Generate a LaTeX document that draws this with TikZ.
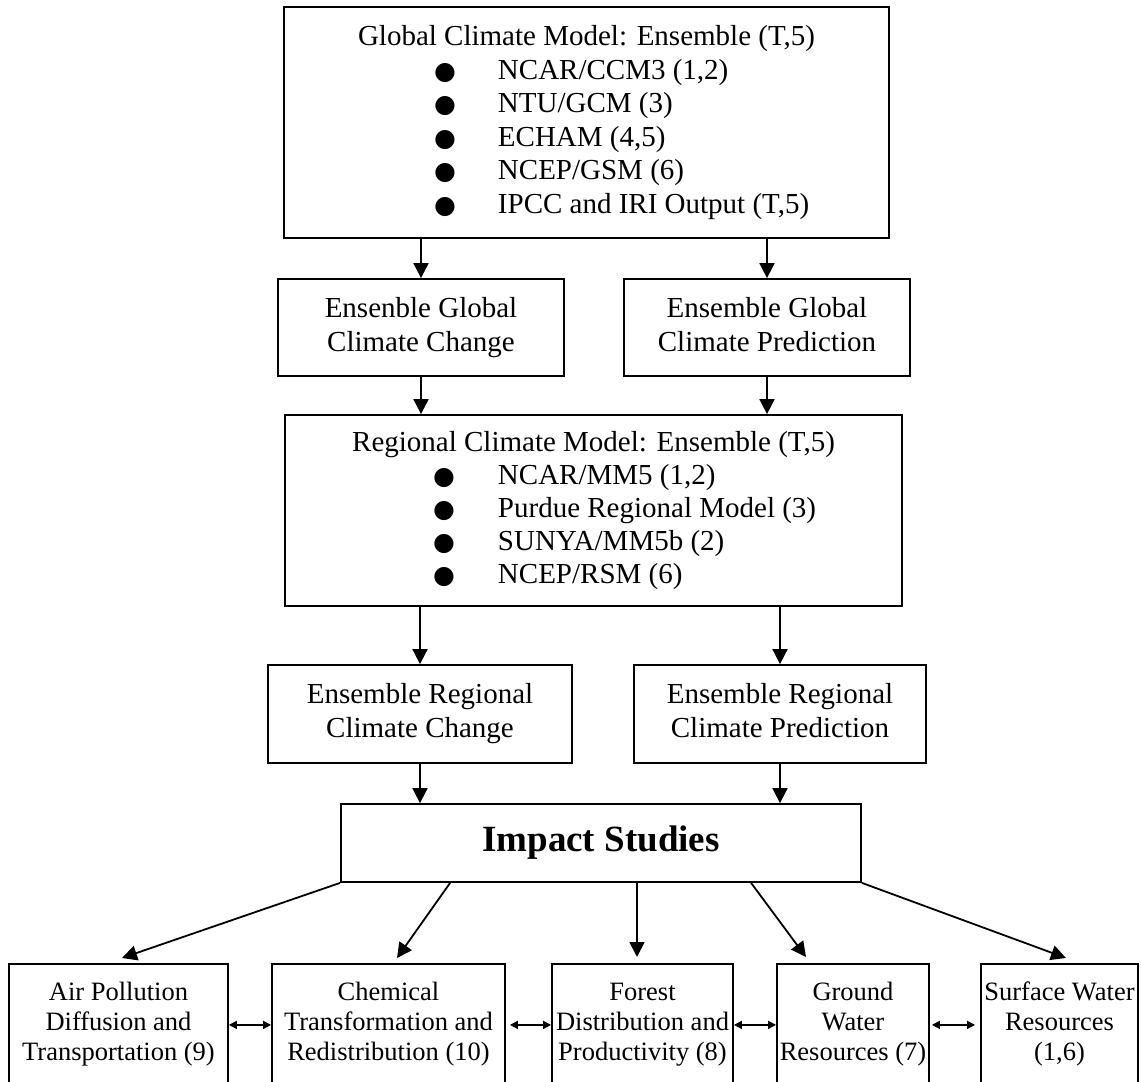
\documentclass[tikz,border=0pt]{standalone}
\usepackage{fontspec}
\setmainfont{Liberation Serif}
\newfontfamily\bulfont{DejaVu Sans}
\usetikzlibrary{arrows.meta,calc}
\newcommand\litem[3]{\hspace*{#1}\makebox[0pt]{\bulfont\fontsize{12.5}{12.5}\selectfont ●}\hspace*{#2}#3\par}
\begin{document}
\begin{tikzpicture}[x=0.5pt,y=-0.5pt,
  box/.style={draw,line width=0.9pt,inner sep=0pt,align=center,font=\fontsize{14.5}{17}\selectfont},
  smallbox/.style={draw,line width=0.9pt,inner sep=0pt,align=center,anchor=north,minimum height=61pt,font=\fontsize{13.25}{15}\selectfont},
  arr/.style={line width=0.9pt,-{Triangle[length=7.5pt,width=7.5pt]}},
  darr/.style={line width=0.8pt,{Triangle[length=4pt,width=4pt]}-{Triangle[length=4pt,width=4pt]}}]
\useasboundingbox (0,0) rectangle (1142,1082);
\clip (0,0) rectangle (1142,1082);

\node[box,minimum width=302.5pt,minimum height=115.5pt] (gcm) at (586.5,122.5)
 {\parbox{302.5pt}{\fontsize{14.5}{16.75}\selectfont\centering Global Climate Model: Ensemble (T,5)\par\raggedright
  \litem{80.5pt}{26.5pt}{NCAR/CCM3 (1,2)}
  \litem{80.5pt}{26.5pt}{NTU/GCM (3)}
  \litem{80.5pt}{26.5pt}{ECHAM (4,5)}
  \litem{80.5pt}{26.5pt}{NCEP/GSM (6)}
  \litem{80.5pt}{26.5pt}{IPCC and IRI Output (T,5)}}};

\node[box,minimum width=143pt,minimum height=48.5pt] (cgc) at (421,327.5) {\strut Ensenble Global\\Climate Change\strut};
\node[box,minimum width=143pt,minimum height=48.5pt] (pgc) at (767,327.5) {\strut Ensemble Global\\Climate Prediction\strut};

\node[box,minimum width=308.5pt,minimum height=95.5pt] (rcm) at (593.5,510.5)
 {\parbox{308.5pt}{\fontsize{14.5}{16.6}\selectfont\centering Regional Climate Model: Ensemble (T,5)\par\raggedright
  \litem{79.5pt}{27pt}{NCAR/MM5 (1,2)}
  \litem{79.5pt}{27pt}{Purdue Regional Model (3)}
  \litem{79.5pt}{27pt}{SUNYA/MM5b (2)}
  \litem{79.5pt}{27pt}{NCEP/RSM (6)}}};

\node[box,minimum width=152pt,minimum height=49pt] (crc) at (420,714) {\strut Ensemble Regional\\Climate Change\strut};
\node[box,minimum width=146pt,minimum height=49pt] (prc) at (780,714) {\strut Ensemble Regional\\Climate Prediction\strut};

\node[box,minimum width=260pt,minimum height=39pt,font=\fontsize{18.5}{22}\selectfont\bfseries] (imp) at (601,843) {Impact Studies};

\node[smallbox,minimum width=109.5pt] (air) at (118.5,963) {\strut Air Pollution\\Diffusion and\\Transportation (9)\strut};
\node[smallbox,minimum width=116.5pt] (chem) at (388.5,963) {\strut Chemical\\Transformation and\\Redistribution (10)\strut};
\node[smallbox,minimum width=90.5pt] (forest) at (642.5,963) {\strut Forest\\Distribution and\\Productivity (8)\strut};
\node[smallbox,minimum width=76pt] (ground) at (853,963) {\strut Ground\\Water\\Resources (7)\strut};
\node[smallbox,minimum width=78.5pt] (surface) at (1059.5,963) {\strut Surface Water\\Resources\\(1,6)\strut};

\draw[arr] (gcm.south -| cgc.north) -- (cgc.north);
\draw[arr] (gcm.south -| pgc.north) -- (pgc.north);
\draw[arr] (cgc.south) -- (cgc.south |- rcm.north);
\draw[arr] (pgc.south) -- (pgc.south |- rcm.north);
\draw[arr] (rcm.south -| crc.north) -- (crc.north);
\draw[arr] (rcm.south -| prc.north) -- (prc.north);
\draw[arr] (crc.south) -- (crc.south |- imp.north);
\draw[arr] (prc.south) -- (prc.south |- imp.north);

\coordinate (ta) at ($(air.north)+(3.5,-5)$);
\coordinate (tc) at ($(chem.north)+(8.5,-5)$);
\coordinate (tf) at ($(forest.north)+(-5.5,-6)$);
\coordinate (tg) at ($(ground.north)+(-47,-6)$);
\coordinate (ts) at ($(surface.north)+(6.5,-5)$);
\coordinate (sc) at ($(imp.south west)+(110,0)$);
\coordinate (sg) at ($(imp.south west)+(411,0)$);

\draw[arr] (imp.south west) -- (ta);
\draw[arr] (sc) -- (tc);
\draw[arr] (imp.south -| tf) -- (tf);
\draw[arr] (sg) -- (tg);
\draw[arr] (imp.south east) -- (ts);

\draw[darr] (air.east) -- (chem.west);
\draw[darr] ([xshift=2pt]chem.east) -- (forest.west);
\draw[darr] (forest.east) -- (ground.west);
\draw[darr] ([xshift=1pt]ground.east) -- ([xshift=-2.5pt]surface.west);
\end{tikzpicture}
\end{document}
